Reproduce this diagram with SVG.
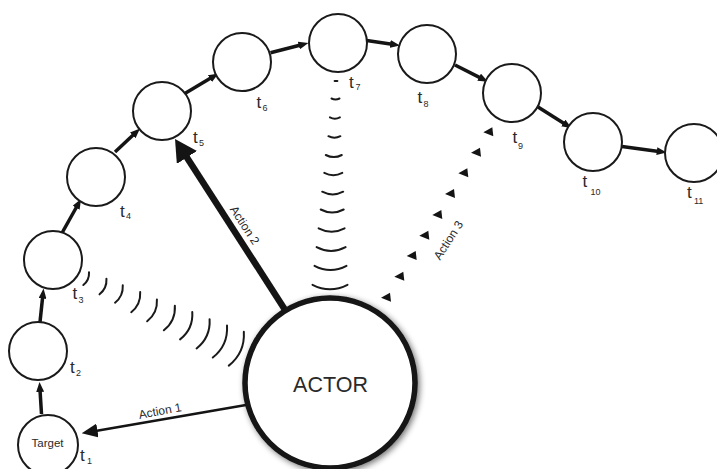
<svg xmlns="http://www.w3.org/2000/svg" xmlns:xlink="http://www.w3.org/1999/xlink" width="717" height="469" viewBox="0 0 717 469">
  <style>
    .state { fill: #ffffff; stroke: #1a1a1a; stroke-width: 2; }
    .lbl { font-family: "Liberation Sans", Arial, Helvetica, sans-serif; fill: #2a2a2a; }
    .t { font-size: 17px; }
    .sub { font-size: 9px; }
    .chain { fill: none; stroke: #141414; stroke-width: 3.5; marker-end: url(#head-small); }
    .wave { fill: none; stroke: #1a1a1a; stroke-width: 2; stroke-linecap: round; }
    .act { font-size: 12px; text-anchor: middle; }
  </style>
  <defs>
    <marker id="head-small" markerUnits="userSpaceOnUse" viewBox="0 0 10 8" markerWidth="10" markerHeight="8" refX="2" refY="4" orient="auto">
      <path d="M0,0 L10,4 L0,8 Z" fill="#141414"/>
    </marker>
    <marker id="head-mid" markerUnits="userSpaceOnUse" viewBox="0 0 16 14" markerWidth="16" markerHeight="14" refX="2" refY="7" orient="auto">
      <path d="M0,0 L16,7 L0,14 Z" fill="#141414"/>
    </marker>
    <marker id="head-big" markerUnits="userSpaceOnUse" viewBox="0 0 22 24" markerWidth="22" markerHeight="24" refX="3" refY="12" orient="auto">
      <path d="M0,0 L22,12 L0,24 Z" fill="#141414"/>
    </marker>
    <path id="tri" d="M-5,0 L4,-5 L5,4 Z" fill="#141414"/>
    <filter id="soft-shadow" x="-20%" y="-20%" width="140%" height="140%">
      <feGaussianBlur in="SourceAlpha" stdDeviation="3"/>
      <feOffset dx="2" dy="2"/>
      <feComponentTransfer><feFuncA type="linear" slope="0.55"/></feComponentTransfer>
      <feMerge><feMergeNode/><feMergeNode in="SourceGraphic"/></feMerge>
    </filter>
  </defs>

  <g id="connectors">
    <!-- time chain t1 .. t11 -->
    <path class="chain" d="M41.5,414 L40,390"/>
    <path class="chain" d="M40,322 L42.7,296.5"/>
    <path class="chain" d="M62,233 L77.1,206"/>
    <path class="chain" d="M115,152 L134.2,134"/>
    <path class="chain" d="M184,94 L211.6,77.6"/>
    <path class="chain" d="M270.5,52.7 L300.7,45"/>
    <path class="chain" d="M366.7,40.5 L392.1,44.3"/>
    <path class="chain" d="M455,65 L480.9,78.1"/>
    <path class="chain" d="M538,107 L564.9,124"/>
    <path class="chain" d="M622,146.5 L658.8,151.4"/>

    <!-- Action 1 -->
    <path d="M246,405 L95.5,430.9" fill="none" stroke="#141414" stroke-width="2.5" marker-end="url(#head-mid)"/>
    <text class="lbl act" transform="translate(160,411) rotate(-10.5)" x="0" y="4">Action 1</text>

    <!-- Action 2 -->
    <path d="M284.5,309 L185.3,154.9" fill="none" stroke="#141414" stroke-width="6.5" marker-end="url(#head-big)"/>
    <text class="lbl act" transform="translate(245,225) rotate(57)" x="0" y="4.5">Action 2</text>

    <!-- Action 3 -->
    <g id="action3-marks">
      <use xlink:href="#tri" x="488.3" y="132.3"/>
      <use xlink:href="#tri" x="476" y="152.7"/>
      <use xlink:href="#tri" x="463.3" y="173.3"/>
      <use xlink:href="#tri" x="450" y="194"/>
      <use xlink:href="#tri" x="437.3" y="215"/>
      <use xlink:href="#tri" x="424.3" y="235.7"/>
      <use xlink:href="#tri" x="411.7" y="256"/>
      <use xlink:href="#tri" x="399.3" y="276.7"/>
      <use xlink:href="#tri" x="386" y="297.7"/>
    </g>
    <text class="lbl act" transform="translate(448,240) rotate(-57)" x="0" y="4.5">Action 3</text>

    <!-- wave fronts towards t3 -->
    <g id="waves-t3" class="wave">
      <path transform="translate(87,279) rotate(-66)" d="M-7,-0.9 Q0,2.7 7,-0.9"/>
      <path transform="translate(104,287) rotate(-66)" d="M-8.5,-1.1 Q0,3.3 8.5,-1.1"/>
      <path transform="translate(120,294.5) rotate(-66)" d="M-9.5,-1.2 Q0,3.7 9.5,-1.2"/>
      <path transform="translate(137,302.7) rotate(-66)" d="M-11,-1.4 Q0,4.3 11,-1.4"/>
      <path transform="translate(153.5,311) rotate(-66)" d="M-12,-1.6 Q0,4.7 12,-1.6"/>
      <path transform="translate(171,318.7) rotate(-66)" d="M-13.5,-1.8 Q0,5.3 13.5,-1.8"/>
      <path transform="translate(188,326.5) rotate(-66)" d="M-15,-2 Q0,5.9 15,-2"/>
      <path transform="translate(205,334.7) rotate(-66)" d="M-16,-2.1 Q0,6.2 16,-2.1"/>
      <path transform="translate(222,342.5) rotate(-66)" d="M-17.5,-2.3 Q0,6.8 17.5,-2.3"/>
      <path transform="translate(238.5,349.7) rotate(-66)" d="M-18.5,-2.4 Q0,7.2 18.5,-2.4"/>
    </g>

    <!-- wave fronts towards t7 -->
    <g id="waves-t7" class="wave">
      <path d="M334.6,81 L337.4,81"/>
      <path d="M331.5,98.5 Q335.5,100.5 339.5,98.5"/>
      <path d="M329.9,117.4 Q334.9,120 339.9,117.4"/>
      <path d="M328.4,136.2 Q334.4,139.4 340.4,136.2"/>
      <path d="M325.8,155 Q333.8,159.2 341.8,155"/>
      <path d="M324.3,172.9 Q333.3,177.5 342.3,172.9"/>
      <path d="M322.2,191.7 Q332.7,197.1 343.2,191.7"/>
      <path d="M320.7,209.5 Q332.2,215.5 343.7,209.5"/>
      <path d="M318.6,228.3 Q331.6,235.1 344.6,228.3"/>
      <path d="M316.6,247.1 Q331.1,254.7 345.6,247.1"/>
      <path d="M314.5,265.9 Q330.5,274.3 346.5,265.9"/>
      <path d="M312.5,284.8 Q330,293.8 347.5,284.8"/>
    </g>
  </g>

  <g id="node-t1">
    <circle class="state" cx="48" cy="445" r="30"/>
    <text class="lbl" x="47.5" y="447" font-size="11.5" text-anchor="middle">Target</text>
    <text class="lbl t" x="80" y="461">t<tspan class="sub" x="87" y="464">1</tspan></text>
  </g>
  <g id="node-t2">
    <circle class="state" cx="38" cy="351" r="29"/>
    <text class="lbl t" x="70" y="373">t<tspan class="sub" x="76" y="375.5">2</tspan></text>
  </g>
  <g id="node-t3">
    <circle class="state" cx="53" cy="260" r="29"/>
    <text class="lbl t" x="72.5" y="299">t<tspan class="sub" x="78.5" y="303">3</tspan></text>
  </g>
  <g id="node-t4">
    <circle class="state" cx="96" cy="177" r="29"/>
    <text class="lbl t" x="120" y="217">t<tspan class="sub" x="126" y="219">4</tspan></text>
  </g>
  <g id="node-t5">
    <circle class="state" cx="162" cy="111" r="29"/>
    <text class="lbl t" x="193" y="143">t<tspan class="sub" x="199" y="145.5">5</tspan></text>
  </g>
  <g id="node-t6">
    <circle class="state" cx="242" cy="62" r="29"/>
    <text class="lbl t" x="256.5" y="108">t<tspan class="sub" x="262.5" y="110.5">6</tspan></text>
  </g>
  <g id="node-t7">
    <circle class="state" cx="338" cy="43" r="29"/>
    <text class="lbl t" x="349" y="88">t<tspan class="sub" x="355.5" y="89.5">7</tspan></text>
  </g>
  <g id="node-t8">
    <circle class="state" cx="427" cy="54" r="29"/>
    <text class="lbl t" x="417.5" y="103">t<tspan class="sub" x="423.5" y="106.5">8</tspan></text>
  </g>
  <g id="node-t9">
    <circle class="state" cx="512" cy="93" r="29"/>
    <text class="lbl t" x="512.5" y="143">t<tspan class="sub" x="518" y="148.5">9</tspan></text>
  </g>
  <g id="node-t10">
    <circle class="state" cx="593" cy="142" r="29"/>
    <text class="lbl t" x="582.5" y="187">t<tspan class="sub" x="590.5" y="195">10</tspan></text>
  </g>
  <g id="node-t11">
    <circle class="state" cx="694" cy="153" r="29"/>
    <text class="lbl t" x="687" y="198">t<tspan class="sub" x="694" y="203.5">11</tspan></text>
  </g>

  <g id="node-actor">
    <circle cx="330" cy="383" r="85" fill="#ffffff" stroke="#141414" stroke-width="5.5" filter="url(#soft-shadow)"/>
    <text class="lbl" x="330.5" y="391.5" font-size="21.5" text-anchor="middle">ACTOR</text>
  </g>
</svg>
